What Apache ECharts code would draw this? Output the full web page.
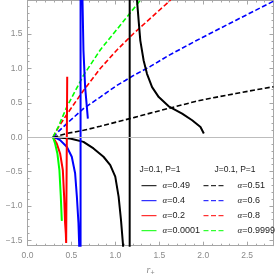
<!DOCTYPE html>
<html><head><meta charset="utf-8">
<script src="https://cdn.jsdelivr.net/npm/echarts@6/dist/echarts.min.js"></script>
<style>html,body{margin:0;padding:0;background:#fff}#c{width:275px;height:275px}</style>
</head><body><div id="c"></div>
<script>
// ---- data ----
const xRange = [0, 2.8];
const yRange = [-1.58, 1.99];
const legendHeader = 'J=0.1, P=1';
const xAxisName = 'r+';
const yAxisName = 'C';
const solidNames = ['α=0.49', 'α=0.4', 'α=0.2', 'α=0.0001'];
const dashedNames = ['α=0.51', 'α=0.6', 'α=0.8', 'α=0.9999'];

// solid curves (r+, C)
const a049 = [[0.29,0],[0.35,-0.006],[0.485,-0.019],[0.637,-0.068],[0.751,-0.164],[0.865,-0.285],[0.942,-0.406],[0.999,-0.575],[1.037,-0.865],[1.064,-1.203],[1.087,-1.565],[1.11,-2.2],[1.14,-4],[1.163,-30],[1.163,30],[1.2,5],[1.247,1.985],[1.265,1.696],[1.284,1.406],[1.322,1.116],[1.36,0.923],[1.418,0.729],[1.494,0.584],[1.607,0.449],[1.76,0.343],[1.874,0.246],[1.969,0.149],[2.007,0.054]];
const a04 = [[0.29,0],[0.33,-0.015],[0.371,-0.043],[0.447,-0.14],[0.504,-0.285],[0.542,-0.526],[0.562,-0.865],[0.58,-1.25],[0.588,-1.565],[0.595,-2.5],[0.604,-30],[0.604,30],[0.615,5],[0.626,1.985],[0.637,1.26],[0.656,0.729],[0.687,0.271]];
const a02 = [[0.29,0],[0.333,-0.092],[0.371,-0.237],[0.402,-0.478],[0.417,-0.865],[0.428,-1.25],[0.436,-1.40],[0.44,-1.54],[0.452,-1.54],[0.452,0.88]];
const a00001 = [[0.29,0],[0.314,-0.092],[0.34,-0.237],[0.363,-0.478],[0.379,-0.865],[0.39,-1.203],[0.392,-1.22]];
// dashed curves (r+, C)
const a051 = [[0.29,0],[0.35,0.02],[0.447,0.054],[0.637,0.10],[0.828,0.159],[1.018,0.222],[1.208,0.285],[1.398,0.35],[1.607,0.42],[1.91,0.52],[2.14,0.58],[2.37,0.635],[2.6,0.69],[2.8,0.735]];
const a06 = [[0.29,0],[0.35,0.08],[0.447,0.198],[0.637,0.416],[0.828,0.584],[1.018,0.754],[1.113,0.826],[1.208,0.899],[1.398,1.03],[1.607,1.19],[1.912,1.40],[2.14,1.55],[2.369,1.70],[2.6,1.85],[2.8,1.98],[2.85,2.01]];
const a08 = [[0.29,0],[0.35,0.14],[0.447,0.33],[0.637,0.68],[0.828,1.0],[1.018,1.27],[1.208,1.51],[1.398,1.73],[1.607,1.97],[1.63,2.0]];
const a09999 = [[0.29,0],[0.35,0.15],[0.447,0.44],[0.637,0.9],[0.828,1.27],[1.018,1.57],[1.113,1.72],[1.27,1.97],[1.3,2.02]];

// ---- chart ----
const solidData = [a049, a04, a02, a00001];
const dashedData = [a051, a06, a08, a09999];
const palette = ['#000000', '#0000ff', '#ff0000', '#00ff00'];
const frameColor = '#a6a6a6';
const labelColor = '#8a8a8a';
const fmt = v => v.toFixed(1).replace('-', '\u2212');

const series = [];
solidData.forEach((d, i) => series.push({
  type: 'line', name: solidNames[i], data: d, symbol: 'none', clip: true,
  lineStyle: { color: palette[i], width: 2 }, itemStyle: { color: palette[i] }, z: 3
}));
dashedData.forEach((d, i) => series.push({
  type: 'line', name: dashedNames[i], data: d, symbol: 'none', clip: true,
  lineStyle: { color: palette[i], width: 1.6, type: [5, 2.5] }, itemStyle: { color: palette[i] }, z: 2
}));
series[0].markLine = { silent: true, symbol: 'none', label: { show: false },
  lineStyle: { color: '#bdbdbd', width: 1, type: 'solid' }, data: [{ yAxis: 0 }] };

function xAx(pos, labels) {
  return {
    type: 'value', position: pos, min: xRange[0], max: xRange[1], interval: 0.5,
    axisLine: { show: true, onZero: false, lineStyle: { color: frameColor, width: 1 } },
    axisTick: { show: true, inside: true, length: 4, lineStyle: { color: frameColor } },
    minorTick: { show: true, splitNumber: 5, length: 2, lineStyle: { color: frameColor } },
    axisLabel: { show: labels, formatter: fmt, color: labelColor, fontSize: 8.5, margin: 5,
      fontFamily: 'Liberation Sans', showMaxLabel: false },
    splitLine: { show: false }
  };
}
function yAx(pos, labels) {
  return {
    type: 'value', position: pos, min: yRange[0], max: yRange[1], splitNumber: 7,
    axisLine: { show: true, onZero: false, lineStyle: { color: frameColor, width: 1 } },
    axisTick: { show: true, inside: true, length: 4, lineStyle: { color: frameColor } },
    minorTick: { show: true, splitNumber: 5, length: 2, lineStyle: { color: frameColor } },
    axisLabel: { show: labels, formatter: fmt, color: labelColor, fontSize: 8.5, margin: 5,
      fontFamily: 'Liberation Sans', showMinLabel: false, showMaxLabel: false },
    splitLine: { show: false }
  };
}
const xb = xAx('bottom', true);
xb.name = '{r|' + xAxisName.charAt(0) + '}{s|' + xAxisName.slice(1) + '}';
xb.nameLocation = 'middle'; xb.nameGap = 18;
xb.nameTextStyle = { rich: {
  r: { fontStyle: 'italic', fontSize: 10, color: labelColor, fontFamily: 'Liberation Serif' },
  s: { fontSize: 7, color: labelColor, padding: [6, 0, 0, 0], fontFamily: 'Liberation Sans' } } };
const yl = yAx('left', true);
yl.name = yAxisName; yl.nameLocation = 'middle'; yl.nameGap = 21; yl.nameRotate = 0;
yl.nameTextStyle = { color: labelColor, fontSize: 10, fontFamily: 'Liberation Sans' };

const legendText = {
  fontSize: 9, color: '#222', fontFamily: 'Liberation Sans', lineHeight: 10,
  rich: { a: { fontStyle: 'italic', fontSize: 9, fontFamily: 'Liberation Serif', color: '#222' } }
};
const legendFmt = n => '{a|' + n.charAt(0) + '}' + n.slice(1);
const headerStyle = { fontSize: 8.5, fontWeight: 'normal', color: '#222', fontFamily: 'Liberation Sans' };

const option = {
  animation: false,
  backgroundColor: '#fff',
  grid: { left: 27.5, right: 1.5, top: 0.5, bottom: 29.3, containLabel: false, outerBoundsMode: 'none' },
  xAxis: [xb, xAx('top', false)],
  yAxis: [yl, yAx('right', false)],
  title: [
    { text: legendHeader, left: 160, top: 165, textAlign: 'center', padding: 0, textStyle: headerStyle },
    { text: legendHeader, left: 235, top: 165, textAlign: 'center', padding: 0, textStyle: headerStyle }
  ],
  legend: [
    { data: solidNames, orient: 'vertical', left: 141, top: 180.7, padding: 0,
      itemWidth: 15, itemHeight: 10, itemGap: 5, formatter: legendFmt,
      itemStyle: { opacity: 0 }, lineStyle: { width: 1 },
      textStyle: Object.assign({ padding: [0, 0, 0, 1] }, legendText) },
    { data: dashedNames, orient: 'vertical', left: 203, top: 180.7, padding: 0,
      itemWidth: 22, itemHeight: 10, itemGap: 5, formatter: legendFmt,
      itemStyle: { opacity: 0 }, lineStyle: { width: 1 },
      textStyle: Object.assign({ padding: [0, 0, 0, 7] }, legendText) }
  ],
  series: series
};
echarts.init(document.getElementById('c'), null, { renderer: 'canvas' }).setOption(option);
</script></body></html>
